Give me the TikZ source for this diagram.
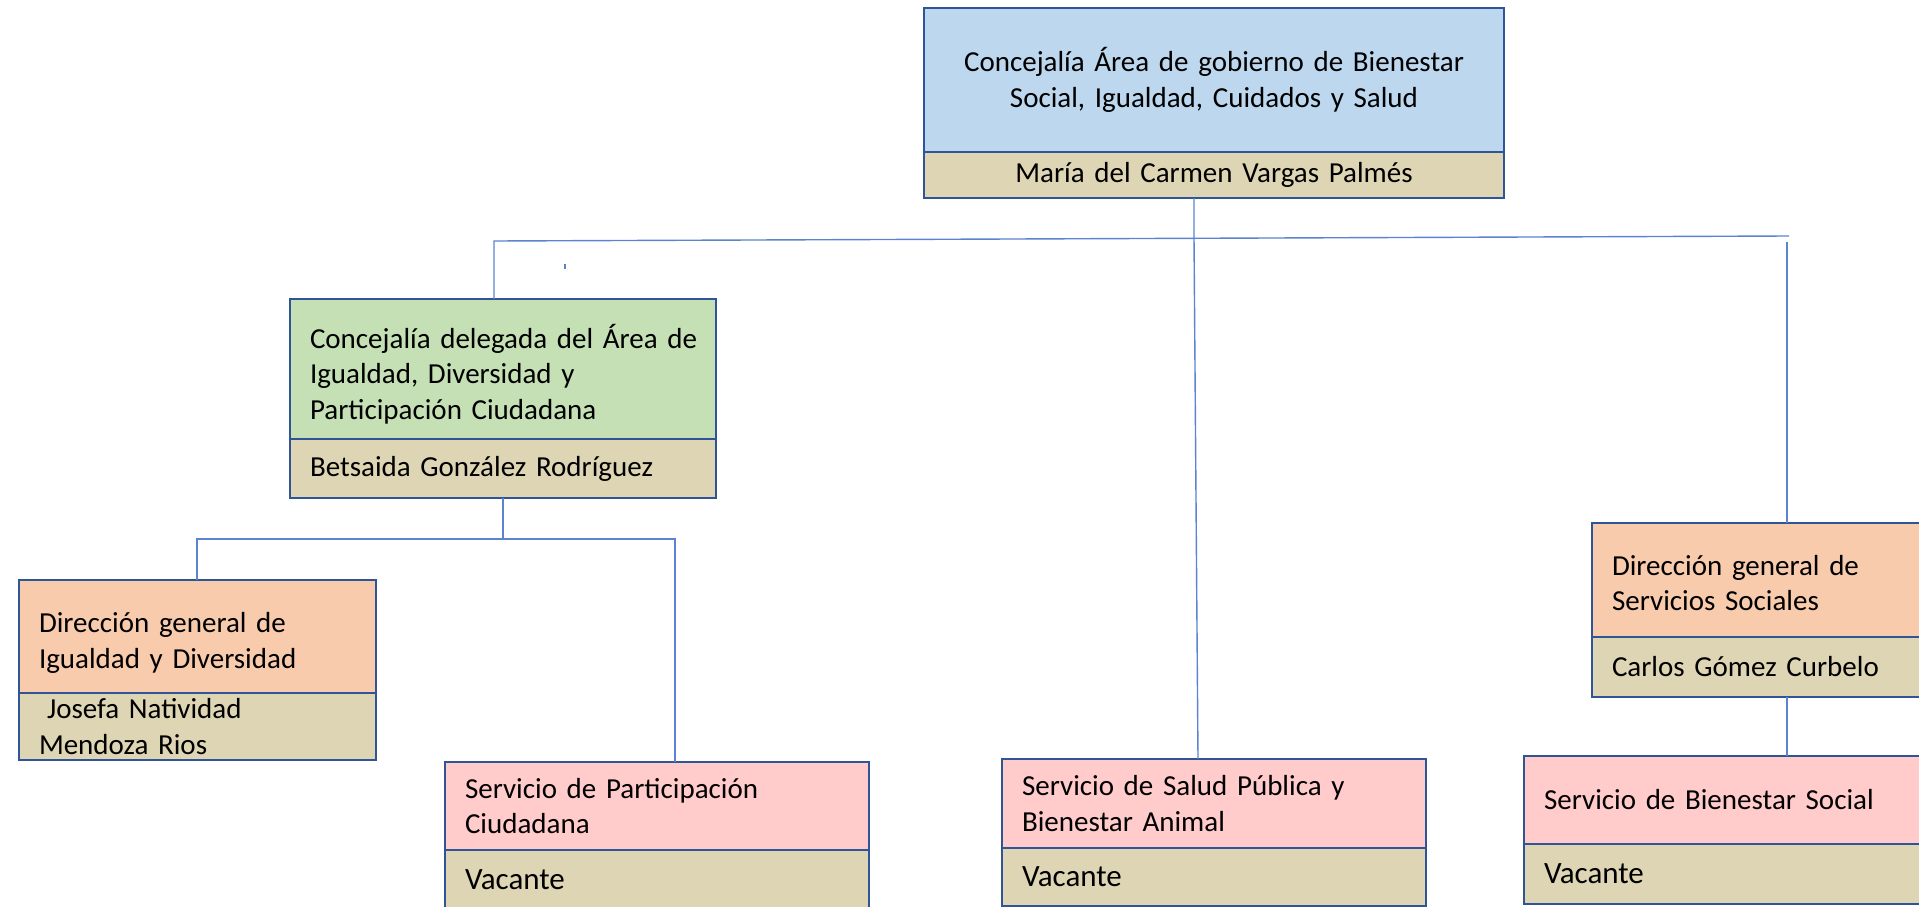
\documentclass[tikz,border=0pt]{standalone}
\usepackage{fontspec}
\setmainfont{Carlito}
\definecolor{bord}{HTML}{2F5597}
\definecolor{conn}{HTML}{5B83CF}
\definecolor{cblue}{HTML}{BDD7EE}
\definecolor{ctan}{HTML}{DDD5B3}
\definecolor{cgreen}{HTML}{C5E0B4}
\definecolor{corange}{HTML}{F8CBAD}
\definecolor{cpink}{HTML}{FFCBCB}
\tikzset{
  box/.style={draw=bord, line width=2.5pt, anchor=north west, outer sep=0pt,
    inner xsep=20pt, inner ysep=0pt, align=left, text=black,
    font=\fontsize{29}{35.5}\selectfont},
  vac/.style={font=\fontsize{31}{36}\selectfont},
  link/.style={draw=conn, line width=1.4pt},
}
\begin{document}
\begin{tikzpicture}[x=1pt,y=-1pt]
\useasboundingbox (0,0) rectangle (1919,907);
\clip (0,0) rectangle (1919,907);
\fill[white] (0,0) rectangle (1919,907);

% top box
\node[box, fill=cblue, align=center, text width=540pt, minimum height=144pt] (top) at (924,8)
  {Concejalía Área de gobierno de Bienestar\\Social, Igualdad, Cuidados y Salud};
\node[box, fill=ctan, align=center, text width=540pt, minimum height=46pt] (topn) at (top.south west)
  {María del Carmen Vargas Palmés};

% green box
\node[box, fill=cgreen, text width=386pt, minimum height=140pt] (grn) at (290,299)
  {\rule{0pt}{34pt}\makebox[386pt][l]{Concejalía delegada del Área de}\\Igualdad, Diversidad y\\Participación Ciudadana};
\node[box, fill=ctan, text width=386pt, minimum height=59pt] (grnn) at (grn.south west)
  {Betsaida González Rodríguez};

% orange left
\node[box, fill=corange, text width=317pt, minimum height=113pt] (dgi) at (19,580)
  {\rule{0pt}{33pt}Dirección general de\\Igualdad y Diversidad};
\node[box, fill=ctan, text width=317pt, minimum height=67pt] (dgin) at (dgi.south west)
  {\hspace*{8pt}Josefa Natividad\\Mendoza Rios};

% pink participacion
\node[box, fill=cpink, text width=384pt, minimum height=88pt] (spc) at (445,762)
  {Servicio de Participación\\Ciudadana};
\node[box, fill=ctan, text width=384pt, minimum height=60pt, vac] (spcn) at (spc.south west)
  {Vacante};

% pink salud
\node[box, fill=cpink, text width=384pt, minimum height=89pt] (ssp) at (1002,759)
  {Servicio de Salud Pública y\\Bienestar Animal};
\node[box, fill=ctan, text width=384pt, minimum height=58pt, vac] (sspn) at (ssp.south west)
  {Vacante};

% orange right
\node[box, fill=corange, text width=320pt, minimum height=114pt] (dgs) at (1592,523)
  {\rule{0pt}{26pt}Dirección general de\\Servicios Sociales};
\node[box, fill=ctan, text width=320pt, minimum height=60pt] (dgsn) at (dgs.south west)
  {Carlos Gómez Curbelo};

% pink bienestar social
\node[box, fill=cpink, text width=380pt, minimum height=88pt] (sbs) at (1524,756)
  {Servicio de Bienestar Social};
\node[box, fill=ctan, text width=380pt, minimum height=60pt, vac] (sbsn) at (sbs.south west)
  {Vacante};

% connectors
\coordinate (tA) at (1194,238);
\coordinate (tB) at (1198,500);
\coordinate (hL) at (494,241);
\coordinate (hR) at (1789,236);
\coordinate (vR) at (1787,242);
\coordinate (gA) at (503,539);
\coordinate (gL) at (197,539);
\coordinate (gR) at (675,539);
\coordinate (tk) at (565,264);
\coordinate (bA) at (1787,700);

\draw[link] (topn.south -| tA) -- (tA) -- (ssp.north -| tB);
\draw[link] (grn.north -| hL) -- (hL) -- (hR);
\draw[link] (vR) -- (dgs.north -| vR);
\draw[link] (tk) -- ++(0,5);
\draw[link] (grnn.south -| gA) -- (gA);
\draw[link] (dgi.north -| gL) -- (gL) -- (gR) -- (spc.north -| gR);
\draw[link] (dgsn.south -| bA) -- (sbs.north -| bA);
\end{tikzpicture}
\end{document}
